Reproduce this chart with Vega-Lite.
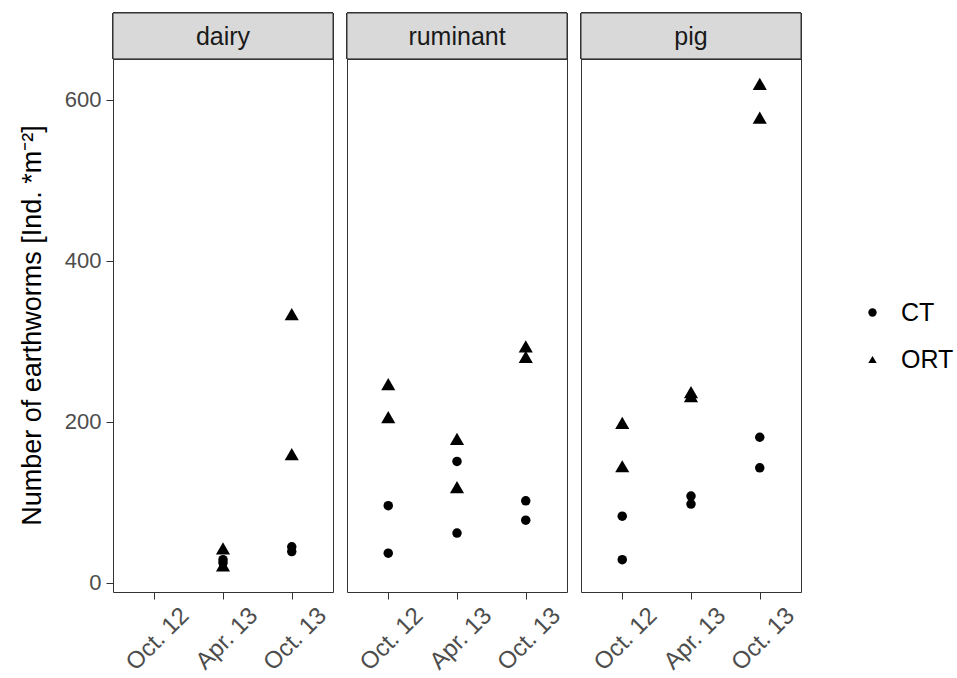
{
  "$schema": "https://vega.github.io/schema/vega-lite/v6.json",
  "padding": {"left": 18, "top": 12, "right": 5, "bottom": 5},
  "bounds": "flush",
  "datasets": {
    "worms": [
      {"animal": "dairy", "time": "Apr. 13", "treat": "ORT", "value": 43},
      {"animal": "dairy", "time": "Apr. 13", "treat": "ORT", "value": 22},
      {"animal": "dairy", "time": "Apr. 13", "treat": "CT", "value": 29},
      {"animal": "dairy", "time": "Apr. 13", "treat": "CT", "value": 25},
      {"animal": "dairy", "time": "Oct. 13", "treat": "ORT", "value": 334},
      {"animal": "dairy", "time": "Oct. 13", "treat": "ORT", "value": 160},
      {"animal": "dairy", "time": "Oct. 13", "treat": "CT", "value": 45},
      {"animal": "dairy", "time": "Oct. 13", "treat": "CT", "value": 39},
      {"animal": "ruminant", "time": "Oct. 12", "treat": "ORT", "value": 247},
      {"animal": "ruminant", "time": "Oct. 12", "treat": "ORT", "value": 206},
      {"animal": "ruminant", "time": "Oct. 12", "treat": "CT", "value": 96},
      {"animal": "ruminant", "time": "Oct. 12", "treat": "CT", "value": 37},
      {"animal": "ruminant", "time": "Apr. 13", "treat": "ORT", "value": 179},
      {"animal": "ruminant", "time": "Apr. 13", "treat": "ORT", "value": 119},
      {"animal": "ruminant", "time": "Apr. 13", "treat": "CT", "value": 151},
      {"animal": "ruminant", "time": "Apr. 13", "treat": "CT", "value": 62},
      {"animal": "ruminant", "time": "Oct. 13", "treat": "ORT", "value": 294},
      {"animal": "ruminant", "time": "Oct. 13", "treat": "ORT", "value": 281},
      {"animal": "ruminant", "time": "Oct. 13", "treat": "CT", "value": 102},
      {"animal": "ruminant", "time": "Oct. 13", "treat": "CT", "value": 78},
      {"animal": "pig", "time": "Oct. 12", "treat": "ORT", "value": 199},
      {"animal": "pig", "time": "Oct. 12", "treat": "ORT", "value": 145},
      {"animal": "pig", "time": "Oct. 12", "treat": "CT", "value": 83},
      {"animal": "pig", "time": "Oct. 12", "treat": "CT", "value": 29},
      {"animal": "pig", "time": "Apr. 13", "treat": "ORT", "value": 237},
      {"animal": "pig", "time": "Apr. 13", "treat": "ORT", "value": 232},
      {"animal": "pig", "time": "Apr. 13", "treat": "CT", "value": 108},
      {"animal": "pig", "time": "Apr. 13", "treat": "CT", "value": 98},
      {"animal": "pig", "time": "Oct. 13", "treat": "ORT", "value": 620},
      {"animal": "pig", "time": "Oct. 13", "treat": "ORT", "value": 578},
      {"animal": "pig", "time": "Oct. 13", "treat": "CT", "value": 181},
      {"animal": "pig", "time": "Oct. 13", "treat": "CT", "value": 143}
    ]
  },
  "data": {"name": "worms"},
  "facet": {
    "column": {
      "field": "animal",
      "type": "nominal",
      "sort": ["dairy", "ruminant", "pig"],
      "header": {"title": null, "labels": false}
    }
  },
  "spacing": 14,
  "spec": {
    "width": 220,
    "height": 579,
    "layer": [
      {
        "mark": {"type": "rect", "fill": "#D9D9D9", "stroke": "#333333", "strokeWidth": 1},
        "encoding": {
          "y": {"datum": 651, "type": "quantitative", "scale": {"domain": [-11.2, 708], "nice": false, "zero": false}},
          "y2": {"datum": 708}
        }
      },
      {
        "transform": [{"filter": "datum.treat === 'CT'"}],
        "mark": {"type": "point", "filled": true, "opacity": 1, "color": "black", "size": 90},
        "encoding": {
          "x": {
            "field": "time", "type": "ordinal",
            "scale": {"domain": ["Oct. 12", "Apr. 13", "Oct. 13"], "type": "point", "padding": 0.6},
            "axis": {"title": null, "labelAngle": -45, "labelAlign": "right", "labelBaseline": "top", "labelPadding": 4, "labelOffset": 22, "labelFontSize": 24}
          },
          "y": {
            "field": "value", "type": "quantitative",
            "scale": {"domain": [-11.2, 708], "nice": false, "zero": false},
            "axis": {"values": [0, 200, 400, 600], "title": "Number of earthworms [Ind. *m⁻²]", "titlePadding": 18, "titleFontSize": 27, "titleY": 312, "labelFontSize": 22, "labelPadding": 5}
          },
          "shape": {
            "field": "treat", "type": "nominal",
            "scale": {"domain": ["CT", "ORT"], "range": ["circle", "triangle-up"]},
            "legend": {"title": null, "orient": "none", "legendX": 747, "legendY": 287, "symbolSize": 70, "labelFontSize": 25, "labelFont": "Liberation Sans", "labelColor": "#000000", "rowPadding": 21, "symbolFillColor": "black", "symbolStrokeColor": "black", "labelOffset": 16}
          }
        }
      },
      {
        "transform": [{"filter": "datum.treat === 'ORT'"}],
        "mark": {"type": "point", "filled": true, "opacity": 1, "color": "black", "size": 200},
        "encoding": {
          "x": {"field": "time", "type": "ordinal"},
          "y": {"field": "value", "type": "quantitative"},
          "shape": {"field": "treat", "type": "nominal"}
        }
      },
      {
        "transform": [{"aggregate": [{"op": "count", "as": "n"}], "groupby": ["animal"]}],
        "mark": {"type": "text", "font": "Liberation Sans", "fontSize": 25, "color": "#1A1A1A", "baseline": "middle", "dy": 1},
        "encoding": {
          "y": {"datum": 679.5, "type": "quantitative"},
          "text": {"field": "animal", "type": "nominal"}
        }
      }
    ]
  },
  "resolve": {"scale": {"x": "independent"}, "axis": {"x": "independent"}},
  "config": {
    "view": {"stroke": "#333333", "strokeWidth": 1},
    "axis": {
      "grid": false, "domain": false,
      "labelFont": "Liberation Sans", "labelFontSize": 22, "labelColor": "#4D4D4D",
      "tickColor": "#333333", "tickSize": 7, "tickWidth": 1,
      "titleFont": "Liberation Sans", "titleFontSize": 25, "titleFontWeight": "normal", "titleColor": "#000000"
    }
  }
}
